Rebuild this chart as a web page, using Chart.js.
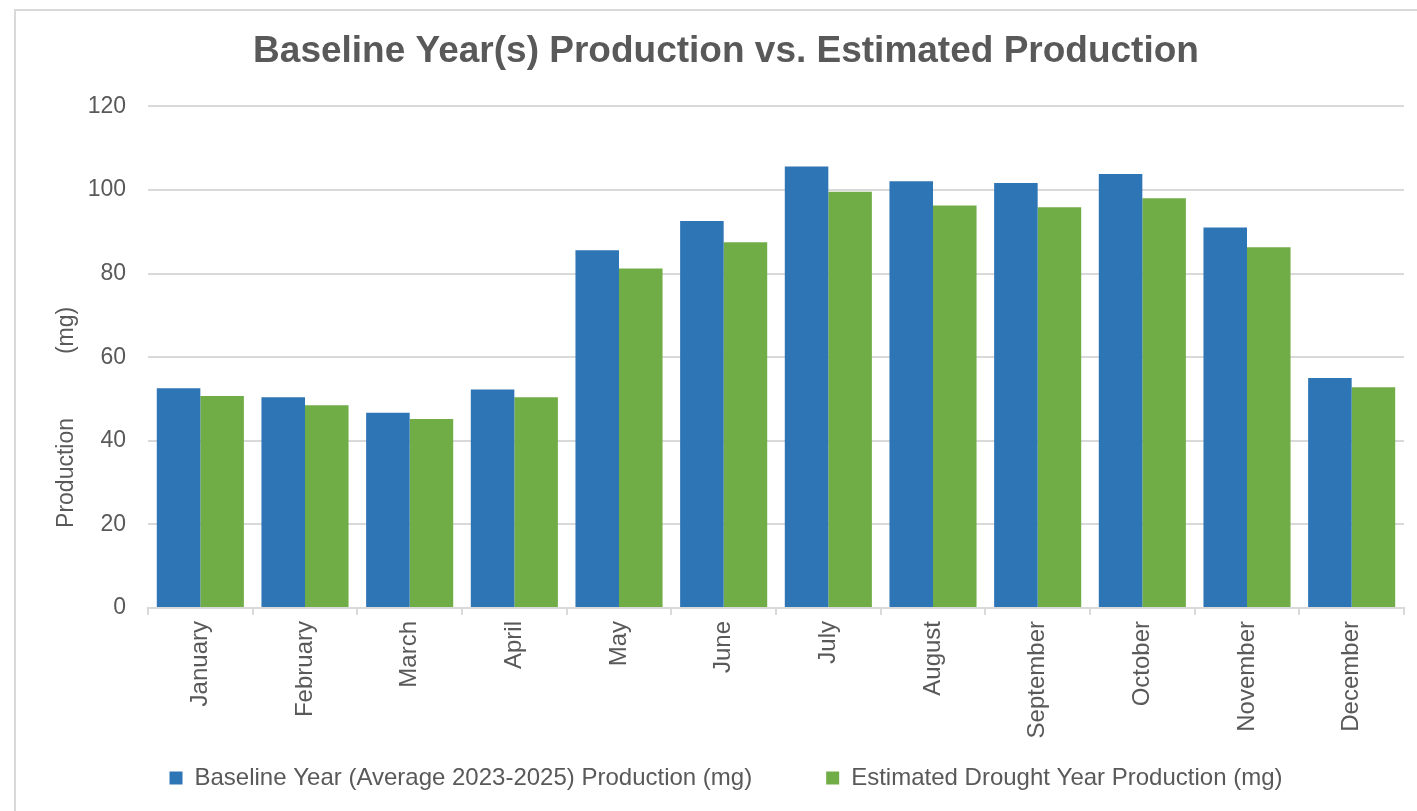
<!DOCTYPE html>
<html>
<head>
<meta charset="utf-8">
<script src="https://cdn.jsdelivr.net/npm/chart.js@4.4.0/dist/chart.umd.min.js"></script>
<style>
  html, body { margin: 0; padding: 0; background: #ffffff; overflow: hidden; }
  #frame { position: absolute; left: 14px; top: 9px; width: 1600px; height: 1000px; border: 2px solid #d9d9d9; box-sizing: border-box; }
  #wrap { position: absolute; left: 0; top: 0; width: 1450px; height: 811px; }
</style>
</head>
<body>
<div id="frame"></div>
<div id="wrap"><canvas id="c"></canvas></div>
<script>
const chartTitle = 'Baseline Year(s) Production vs. Estimated Production';
const yAxisTitle = 'Production          (mg)';
const months = ['January','February','March','April','May','June','July','August','September','October','November','December'];
const baselineLabel = 'Baseline Year (Average 2023-2025) Production (mg)';
const droughtLabel = 'Estimated Drought Year Production (mg)';
const baselineValues = [52.6, 50.4, 46.7, 52.3, 85.6, 92.6, 105.6, 102.1, 101.7, 103.8, 91.0, 55.0];
const droughtValues  = [50.7, 48.5, 45.2, 50.4, 81.2, 87.5, 99.6, 96.3, 95.9, 98.0, 86.3, 52.8];
const yTicks = { min: 0, max: 120, step: 20 };

const FONT = "'Liberation Sans', Arial, sans-serif";
const TXT = '#595959';
const GRID = '#d9d9d9';

// Y axis title, drawn in the space reserved on the left (placed slightly below centre as in the reference)
const yTitlePlugin = {
  id: 'yTitle',
  afterDraw(chart) {
    const { ctx, chartArea } = chart;
    const cy = chartArea.top + (chartArea.bottom - chartArea.top) * 0.62;
    ctx.save();
    ctx.translate(67, cy);
    ctx.rotate(-Math.PI / 2);
    ctx.fillStyle = TXT;
    ctx.font = "23px " + FONT;
    ctx.textAlign = 'center';
    ctx.textBaseline = 'middle';
    ctx.fillText(yAxisTitle, 0, 0);
    ctx.restore();
  }
};

new Chart(document.getElementById('c'), {
  type: 'bar',
  data: {
    labels: months,
    datasets: [
      { label: baselineLabel, data: baselineValues, backgroundColor: '#2E75B6', borderWidth: 0 },
      { label: droughtLabel, data: droughtValues, backgroundColor: '#70AD47', borderWidth: 0 }
    ]
  },
  plugins: [yTitlePlugin],
  options: {
    responsive: true,
    maintainAspectRatio: false,
    animation: false,
    layout: { padding: { top: 0, left: 48, right: 46, bottom: 11 } },
    datasets: { bar: { categoryPercentage: 0.832, barPercentage: 1.0 } },
    plugins: {
      tooltip: { enabled: false },
      title: {
        display: true,
        text: chartTitle,
        color: TXT,
        font: { family: FONT, size: 37, weight: 'bold' },
        padding: { top: 30, bottom: 32 }
      },
      legend: {
        position: 'bottom',
        labels: {
          color: TXT,
          font: { family: FONT, size: 24 },
          boxWidth: 13,
          boxHeight: 13,
          padding: 74
        }
      }
    },
    scales: {
      x: {
        grid: { display: true, drawOnChartArea: false, offset: true, color: GRID, lineWidth: 2, tickLength: 7 },
        border: { display: true, color: GRID, width: 2 },
        ticks: { color: TXT, font: { family: FONT, size: 24 }, minRotation: 90, maxRotation: 90, padding: 6, autoSkip: false },
        afterFit: (s) => { s.height = 84; s._computeLabelArea = () => undefined; }
      },
      y: {
        min: yTicks.min, max: yTicks.max,
        grid: { color: GRID, lineWidth: 2, drawTicks: false },
        border: { display: false },
        ticks: { stepSize: yTicks.step, color: TXT, font: { family: FONT, size: 23 }, padding: 22 },
        afterFit: (s) => { s.width = 100; }
      }
    }
  }
});
</script>
</body>
</html>
